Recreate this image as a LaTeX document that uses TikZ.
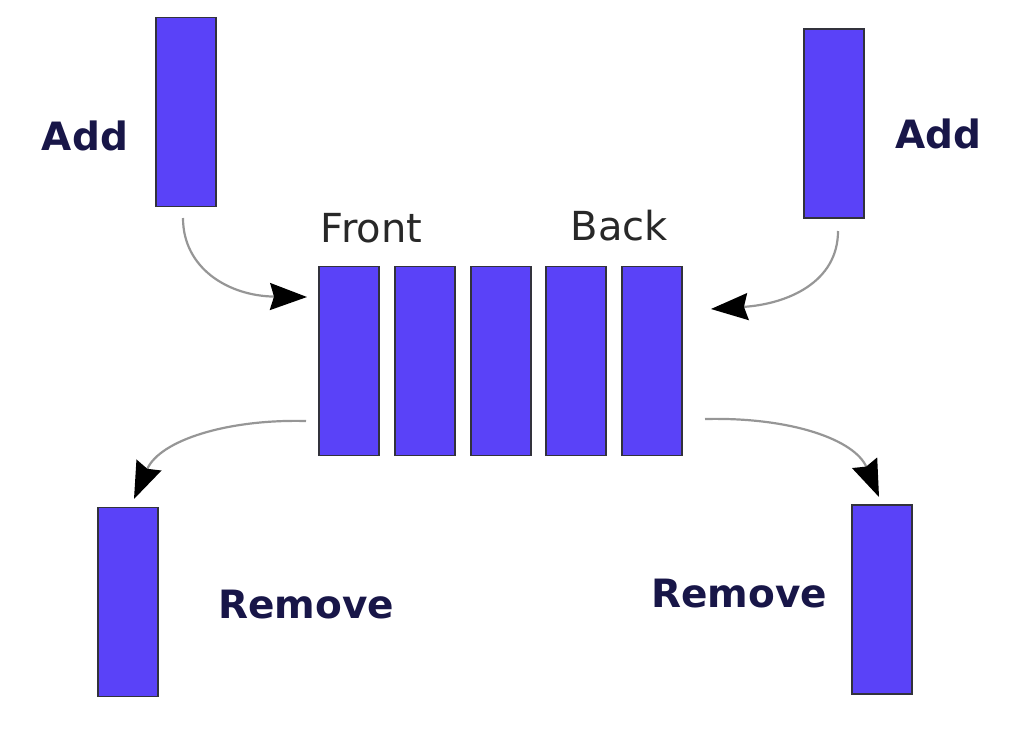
\documentclass[tikz,border=0pt]{standalone}
\usepackage{fontspec}
\setmainfont{DejaVu Sans}
\usetikzlibrary{arrows.meta}
\definecolor{boxfill}{RGB}{90,66,248}
\definecolor{boxline}{RGB}{50,50,60}
\definecolor{navy}{RGB}{24,22,72}
\definecolor{txtgray}{RGB}{40,40,40}
\definecolor{arrgray}{RGB}{150,150,150}
\tikzset{
  block/.style={rectangle, draw=boxline, fill=boxfill, line width=1.3pt,
    minimum width=60pt, minimum height=189pt, inner sep=0pt},
  boldlbl/.style={font=\fontsize{39}{46}\selectfont\bfseries, text=navy, inner sep=0pt, anchor=base},
  plainlbl/.style={font=\fontsize{40}{48}\selectfont, text=txtgray, inner sep=0pt, anchor=base},
  arr/.style={draw=arrgray, line width=2.2pt,
    -{Stealth[length=37pt, width=27pt, inset=4pt, fill=black, color=black]}}
}
\begin{document}
\begin{tikzpicture}[x=1pt, y=-1pt]
\useasboundingbox (0,0) rectangle (1024,729);
% blocks
\node[block] (tl) at (186,112) {};
\node[block] (tr) at (834,123.5) {};
\node[block] (q1) at (349,361) {};
\node[block] (q2) at (425,361) {};
\node[block] (q3) at (501,361) {};
\node[block] (q4) at (576,361) {};
\node[block] (q5) at (652,361) {};
\node[block] (bl) at (128,602) {};
\node[block] (br) at (882,599.5) {};
% labels
\node[boldlbl] (addl) at (85,150) {Add};
\node[boldlbl] (addr) at (938,148) {Add};
\node[plainlbl] (front) at (371.5,242) {Front};
\node[plainlbl] (back) at (619.5,240) {Back};
\node[boldlbl] (reml) at (306,618) {Remove};
\node[boldlbl] (remr) at (739,607) {Remove};
% connector endpoints
\coordinate (a1s) at (183,218);
\coordinate (a1e) at (307,297);
\coordinate (a2s) at (838,231);
\coordinate (a2e) at (711,309);
\coordinate (a3s) at (306,421);
\coordinate (a3e) at (134,499);
\coordinate (a4s) at (705,419);
\coordinate (a4e) at (879,497);
% arrows
\draw[arr] (a1s) .. controls (183,268) and (228,296) .. (a1e);
\draw[arr] (a2s) .. controls (838,282) and (788,304) .. (a2e);
\draw[arr] (a3s) .. controls (228,419) and (160,440) .. (a3e);
\draw[arr] (a4s) .. controls (792,417) and (855,440) .. (a4e);
\end{tikzpicture}
\end{document}
